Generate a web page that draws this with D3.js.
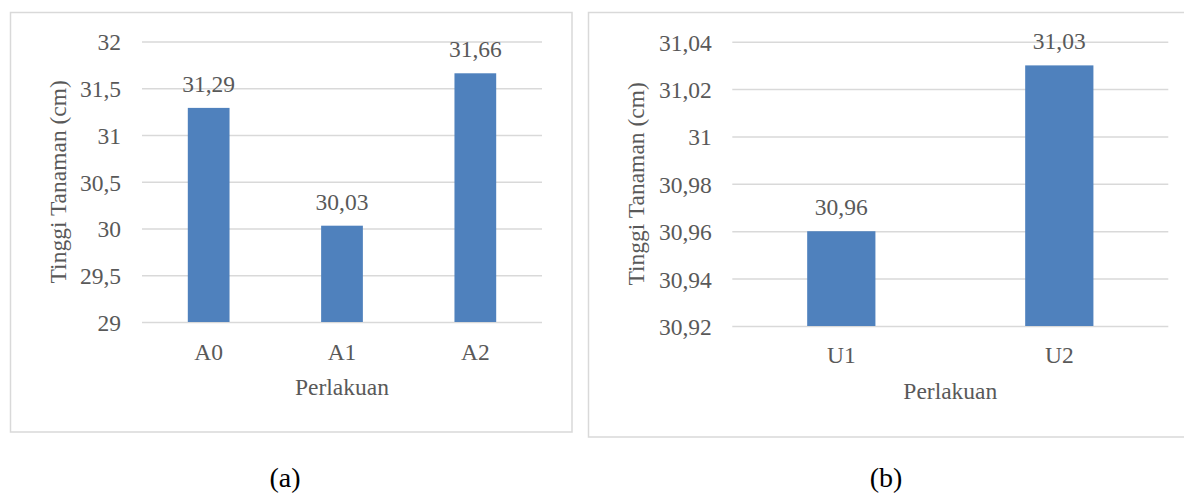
<!DOCTYPE html>
<html>
<head>
<meta charset="utf-8">
<script src="https://cdn.jsdelivr.net/npm/d3@7"></script>
<style>
  html, body { margin: 0; padding: 0; background: #fff; }
  svg { display: block; }
</style>
</head>
<body>
<svg id="chart" width="1184" height="493"></svg>
<script>
// Plant height per treatment, panel (a)
const categoriesA = ["A0", "A1", "A2"];
const valuesA = [31.29, 30.03, 31.66];
const ticksA = [29, 29.5, 30, 30.5, 31, 31.5, 32];

// Plant height per treatment, panel (b)
const categoriesB = ["U1", "U2"];
const valuesB = [30.96, 31.03];
const ticksB = [30.92, 30.94, 30.96, 30.98, 31, 31.02, 31.04];

const yTitle = "Tinggi Tanaman (cm)";
const xTitle = "Perlakuan";
const captions = ["(a)", "(b)"];

// Indonesian number style: comma as decimal separator
const locale = d3.formatLocale({ decimal: ",", thousands: ".", grouping: [3], currency: ["Rp", ""] });
const fmt = locale.format(".2~f");

const FONT = "'Liberation Serif'";
const svg = d3.select("#chart").style("font-family", FONT);
const TEXT = "#595959";
const GRID = "#d9d9d9";
const BAR = "#4f81bd";
const FS = 23.5;

function label(sel, size) {
  return sel.attr("font-family", "Liberation Serif")
    .style("font-family", FONT)
    .style("font-size", size + "px");
}

function drawPanel(cfg) {
  const g = svg.append("g");

  // outer chart frame
  g.append("rect")
    .attr("x", cfg.frame[0]).attr("y", cfg.frame[1])
    .attr("width", cfg.frame[2] - cfg.frame[0]).attr("height", cfg.frame[3] - cfg.frame[1])
    .attr("fill", "#fff").attr("stroke", GRID).attr("stroke-width", 1.5);

  const x = d3.scaleBand()
    .domain(cfg.categories)
    .range([cfg.left, cfg.right])
    .paddingInner(0.687)
    .paddingOuter(0.687 / 2);

  const y = d3.scaleLinear()
    .domain([cfg.ticks[0], cfg.ticks[cfg.ticks.length - 1]])
    .range([cfg.bottom, cfg.top]);

  // horizontal gridlines + value axis labels
  const yAxis = d3.axisLeft(y)
    .tickValues(cfg.ticks)
    .tickSize(-(cfg.right - cfg.left))
    .tickPadding(cfg.tickPad)
    .tickFormat(fmt);

  const ya = g.append("g")
    .attr("transform", `translate(${cfg.left},0)`)
    .call(yAxis)
    .attr("font-family", null)
    .attr("font-size", null);
  ya.select(".domain").remove();
  ya.selectAll(".tick line").attr("stroke", GRID).attr("stroke-width", 1.5);
  label(ya.selectAll(".tick text"), FS)
    .attr("fill", TEXT)
    .attr("dy", "0.36em");

  // category axis labels
  const xAxis = d3.axisBottom(x).tickSize(0).tickPadding(0);
  const xa = g.append("g")
    .attr("transform", `translate(0,${cfg.bottom})`)
    .call(xAxis)
    .attr("font-family", null)
    .attr("font-size", null);
  xa.select(".domain").remove();
  label(xa.selectAll(".tick text"), FS)
    .attr("fill", TEXT)
    .attr("y", cfg.xLabelOffset)
    .attr("dy", 0);

  const rows = cfg.categories.map((c, i) => ({ c, v: cfg.values[i] }));

  // bars
  g.selectAll("rect.bar")
    .data(rows)
    .join("rect")
    .attr("class", "bar")
    .attr("x", d => x(d.c))
    .attr("width", x.bandwidth())
    .attr("y", d => y(d.v))
    .attr("height", d => y(cfg.ticks[0]) - y(d.v))
    .attr("fill", BAR);

  // value labels
  label(g.selectAll("text.val")
    .data(rows)
    .join("text")
    .attr("class", "val"), FS)
    .attr("x", d => x(d.c) + x.bandwidth() / 2)
    .attr("y", d => y(d.v) - 16)
    .attr("text-anchor", "middle")
    .attr("fill", TEXT)
    .text(d => fmt(d.v));

  // axis titles
  label(g.append("text"), FS)
    .attr("x", (cfg.left + cfg.right) / 2)
    .attr("y", cfg.bottom + cfg.xTitleOffset)
    .attr("text-anchor", "middle")
    .attr("fill", TEXT)
    .text(xTitle);

  label(g.append("text"), FS)
    .attr("transform", `translate(${cfg.yTitleX},${(cfg.top + cfg.bottom) / 2}) rotate(-90)`)
    .attr("text-anchor", "middle")
    .attr("fill", TEXT)
    .text(yTitle);

  // panel caption
  label(svg.append("text"), 28)
    .attr("x", cfg.captionX)
    .attr("y", 487)
    .attr("text-anchor", "middle")
    .attr("fill", "#000")
    .text(cfg.caption);
}

drawPanel({
  categories: categoriesA, values: valuesA, ticks: ticksA,
  frame: [10.5, 12.5, 572, 432],
  left: 142, right: 542, top: 41.5, bottom: 322,
  tickPad: 21, xLabelOffset: 38, xTitleOffset: 73, yTitleX: 65.5,
  caption: captions[0], captionX: 285
});

drawPanel({
  categories: categoriesB, values: valuesB, ticks: ticksB,
  frame: [588.5, 12.5, 1192, 437],
  left: 732.3, right: 1168.3, top: 41.7, bottom: 326,
  tickPad: 20.5, xLabelOffset: 37, xTitleOffset: 73, yTitleX: 644,
  caption: captions[1], captionX: 886
});
</script>
</body>
</html>
